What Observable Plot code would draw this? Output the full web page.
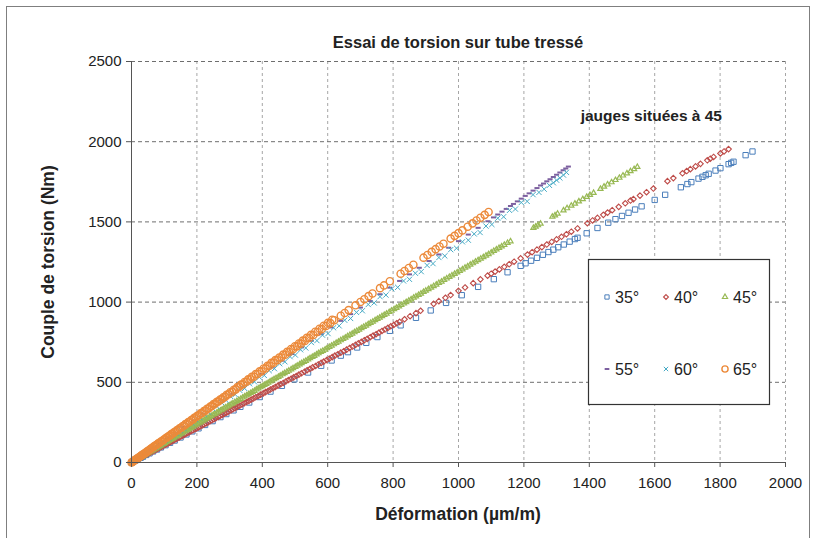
<!DOCTYPE html>
<html><head><meta charset="utf-8">
<script src="https://cdn.jsdelivr.net/npm/d3@7"></script>
<script src="https://cdn.jsdelivr.net/npm/@observablehq/plot@0.6"></script>
<style>
body{margin:0;background:#fff;}
#wrap{position:relative;width:814px;height:538px;overflow:hidden;background:#fff;}
#border{position:absolute;left:6px;top:6px;width:804px;height:600px;border:1px solid #7f7f7f;box-sizing:border-box;}
#chart{position:absolute;left:0;top:0;}
</style>
</head><body>
<div id="wrap"><div id="border"></div><div id="chart"></div></div>
<script>
const title = "Essai de torsion sur tube tressé";
const note = "jauges situées à 45";
const xLabel = "Déformation (µm/m)";
const yLabel = "Couple de torsion (Nm)";
const xTicks = [0,200,400,600,800,1000,1200,1400,1600,1800,2000];
const yTicks = [0,500,1000,1500,2000,2500];
const seriesNames = ["35°","40°","45°","55°","60°","65°"];
const seriesColors = ["#4A7EBB","#BE4B48","#98B954","#7D60A0","#46AAC5","#EC8A3A"];

const x35 = [0,5,12,20,28,35,45,55,66,78,90,104,118,132,150,168,186,205,225,248,272,290,312,333,360,392,425,460,498,540,580,612,640,662,690,718,752,790,823,870,915,962,1010,1060,1108,1150,1190,1205,1222,1240,1258,1275,1290,1305,1322,1340,1356,1364,1392,1425,1458,1480,1500,1520,1540,1560,1600,1632,1680,1700,1712,1734,1746,1756,1765,1786,1801,1826,1834,1841,1878,1899];
const y35 = [0,5,12,21,29,36,47,57,69,81,94,108,123,137,156,175,194,213,234,258,283,302,325,347,374,408,442,478,518,561,603,636,666,688,717,746,782,821,855,902,948,995,1043,1095,1143,1186,1226,1242,1258,1276,1295,1312,1327,1342,1359,1377,1393,1401,1429,1462,1495,1517,1537,1557,1577,1597,1637,1669,1716,1736,1748,1770,1781,1791,1800,1820,1835,1860,1868,1875,1916,1939];

const x40 = [0,6,12,18,24,30,37,44,51,58,66,74,82,90,99,108,117,126,136,146,156,166,177,188,199,210,222,234,246,258,271,284,297,310,324,338,352,366,380,395,410,425,440,456,472,488,504,520,537,554,571,588,605,622,640,658,676,694,712,730,748,766,784,802,820,835,852,870,884,924,940,960,976,1000,1020,1045,1067,1089,1100,1112,1125,1140,1155,1170,1190,1211,1225,1240,1255,1270,1285,1300,1315,1330,1345,1364,1394,1410,1425,1443,1456,1470,1490,1510,1526,1535,1555,1575,1596,1639,1657,1685,1698,1709,1725,1740,1761,1770,1780,1801,1812,1826,
  3,9,15,21,27,34,41,48,55,62,70,78,86,95,104,113,122,131,141,151,161,172,183,194,205,216,228,240,252,265,278,291,304,317,331,345,359,373,388,403,418,433,448,464,480,496,512,529,546,563,580,597,614,631,649,667,685,703,721,739,757,775,793,811];
const y40 = [0,6,13,19,26,32,40,47,55,62,71,79,88,96,106,116,125,135,146,156,167,178,189,201,213,225,238,250,263,276,290,304,318,332,347,362,377,392,407,423,439,455,471,488,505,522,539,556,575,593,611,629,647,666,685,704,723,743,762,781,800,820,839,858,877,893,912,931,946,989,1006,1027,1044,1070,1091,1118,1142,1165,1177,1190,1204,1220,1236,1252,1273,1296,1311,1327,1343,1359,1375,1391,1407,1423,1439,1459,1492,1509,1525,1544,1558,1573,1594,1616,1633,1642,1664,1685,1708,1754,1773,1803,1817,1829,1846,1862,1884,1894,1905,1927,1939,1954,
  3,10,16,22,29,36,44,51,59,66,75,83,92,102,111,121,131,140,151,162,172,184,196,208,219,231,244,257,270,284,297,311,325,339,354,369,384,399,415,431,447,463,479,496,514,531,548,566,584,602,621,639,657,675,694,714,733,752,771,791,810,829,849,868];

const x45 = [0,5,10,16,22,28,34,40,47,54,61,68,75,82,90,98,106,114,122,130,139,148,157,166,175,184,194,204,214,224,234,244,255,266,277,288,299,310,322,334,346,358,370,382,394,406,418,430,442,455,468,481,494,507,520,533,546,559,572,585,598,612,626,640,654,668,682,696,710,724,738,752,766,780,795,810,825,840,855,870,885,900,916,932,948,964,980,996,1012,1028,1044,1060,1076,1092,1108,1124,1140,1159,1229,1236,1243,1251,1287,1295,1303,1321,1332,1345,1356,1368,1380,1392,1402,1413,1434,1445,1456,1468,1480,1492,1503,1515,1526,1537,1547,
  3,8,13,19,25,31,37,44,51,58,65,72,79,86,94,102,110,118,126,135,144,153,162,171,180,189,199,209,219,229,239,250,261,272,283,294,305,316,328,340,352,364,376,388,400,412,424,436,449,462,475,488,501,514,527,540,553,566,579,592,605,619,633,647,661,675,689,703,717,731,745,759,773,788,803,818,833,848,863,878,893,908,924,940,956,972,988,1004,1020,1036,1052,1068,1084,1100,1116,1132,1150];
const y45 = [0,6,12,19,26,33,40,48,56,64,73,81,89,98,107,117,126,136,145,155,165,176,187,198,208,219,231,243,255,267,278,290,303,317,330,343,356,369,383,397,412,426,440,455,469,483,497,512,526,541,557,572,588,603,619,634,650,665,681,696,712,728,745,762,778,795,812,828,845,862,878,895,912,928,946,964,982,1000,1017,1035,1053,1071,1090,1109,1128,1147,1166,1185,1204,1223,1242,1261,1280,1299,1319,1338,1357,1379,1463,1471,1479,1489,1532,1541,1551,1572,1585,1601,1614,1628,1642,1656,1668,1681,1706,1720,1733,1747,1761,1775,1789,1803,1816,1829,1843,
  4,10,15,23,30,37,44,52,61,69,77,86,94,102,112,121,131,140,150,161,171,182,193,203,214,225,237,249,261,273,284,298,311,324,337,350,363,376,390,405,419,433,447,462,476,490,505,519,534,550,565,581,596,612,627,643,658,674,689,704,720,737,753,770,787,803,820,837,853,870,887,903,920,938,956,973,991,1009,1027,1045,1063,1081,1100,1119,1138,1157,1176,1195,1214,1233,1252,1271,1290,1309,1328,1347,1369];

const x55 = [0,20,40,60,85,110,135,160,190,220,250,280,310,340,370,400,430,460,490,520,550,580,610,640,670,700,730,760,790,820,850,880,910,940,970,1000,1030,1060,1090,1107,1120,1133,1146,1159,1168,1180,1192,1204,1216,1228,1240,1251,1260,1270,1280,1290,1300,1310,1320,1328,1336];
const y55 = [0,28,55,83,117,152,186,221,262,304,345,386,428,469,511,552,593,635,676,718,759,800,842,883,925,966,1007,1049,1090,1132,1173,1214,1256,1297,1339,1380,1421,1463,1504,1528,1546,1564,1581,1599,1612,1628,1645,1662,1678,1695,1711,1727,1739,1753,1766,1780,1794,1808,1822,1833,1845];

const x60 = [0,8,16,25,34,43,52,62,72,82,92,103,114,125,136,148,160,172,184,196,209,222,235,248,261,275,289,303,317,331,346,361,376,391,406,421,437,453,469,485,501,517,533,550,567,584,601,618,635,652,670,688,706,724,742,760,778,796,814,832,850,868,886,904,922,940,958,976,994,1012,1030,1048,1066,1084,1102,1120,1138,1156,1174,1192,1210,1228,1246,1262,1278,1290,1300,1310,1321,1330];
const y60 = [0,11,21,34,45,58,70,84,96,112,123,140,152,170,182,201,214,234,246,267,280,302,315,337,350,374,388,412,424,450,462,491,503,532,543,573,585,616,628,660,670,703,714,748,760,794,804,840,852,887,898,936,946,985,995,1034,1044,1083,1092,1132,1142,1180,1190,1229,1240,1278,1288,1327,1336,1376,1386,1425,1434,1474,1484,1523,1532,1572,1580,1621,1628,1670,1684,1704,1728,1744,1760,1774,1792,1809];

const x65 = [0,6,12,18,24,30,36,43,50,57,64,71,78,86,94,102,110,118,126,134,143,152,161,170,179,188,197,206,216,226,236,246,256,266,276,286,297,308,319,330,341,352,363,374,386,398,410,422,434,446,458,470,482,494,506,518,530,543,556,569,582,595,608,620,640,652,664,685,700,712,725,737,760,772,790,823,835,848,862,893,905,918,930,942,954,976,988,1000,1012,1028,1043,1055,1067,1080,1092,
  3,9,15,21,27,33,40,47,54,61,68,75,82,90,98,106,114,122,130,138,147,156,165,174,183,192,201,211,221,231,241,251,261,271,281,291,302,313,324,335,346,357,368,380,392,404,416,428,440,452,464,476,488,500,512,524,536,549,562,575,588,601,614];
const y65 = [0,9,17,26,34,43,51,61,72,82,92,102,112,123,134,146,157,169,180,192,204,217,230,243,256,269,282,295,309,323,337,352,366,380,395,409,425,440,456,472,488,503,519,535,552,569,586,603,621,638,655,672,689,706,724,741,758,776,795,814,832,851,869,887,915,932,950,980,1001,1018,1037,1054,1087,1104,1130,1177,1194,1213,1233,1277,1294,1313,1330,1347,1364,1396,1413,1430,1447,1470,1491,1509,1526,1544,1562,
  4,13,22,30,39,48,58,68,78,88,99,109,119,131,142,154,165,177,189,200,213,226,239,252,265,278,291,306,320,335,349,364,378,393,407,422,438,454,470,486,502,518,534,551,568,586,603,621,638,655,673,690,708,725,742,760,777,796,815,834,853,871,890];

const dashSymbol = {draw(ctx, size){ const w = Math.sqrt(size) * 0.55; ctx.moveTo(-w, 0); ctx.lineTo(w, 0); }};
const seriesX = [x35,x40,x45,x55,x60,x65];
const seriesY = [y35,y40,y45,y55,y60,y65];
const symbols = ["square","diamond2","triangle",dashSymbol,"times","circle"];
const radii = [3,2.5,1.9,2.6,2.5,3.6];
const widths = [1,1.1,1.2,2,1,1.4];
const legendRadii = [2.4,2.2,1.9,2.4,2.1,3.1];

const rows = (xs, ys) => xs.map((x, i) => ({x, y: ys[i]}));

const dotMarks = seriesX.map((xs, k) => Plot.dot(rows(xs, seriesY[k]), {
  x: "x", y: "y", symbol: symbols[k], r: radii[k],
  stroke: seriesColors[k], fill: "none", strokeWidth: widths[k]
}));

const plot = Plot.plot({
  width: 814, height: 538,
  marginLeft: 131, marginRight: 29, marginTop: 61, marginBottom: 76,
  x: {domain: [0, 2000]},
  y: {domain: [0, 2500]},
  style: {fontFamily: "'Liberation Sans', Arial, sans-serif", fontSize: "15px", color: "#222", background: "transparent", overflow: "visible"},
  marks: [
    Plot.ruleX(xTicks.slice(1), {stroke: "#a6a6a6", strokeDasharray: "3,3", strokeWidth: 1}),
    Plot.ruleY(yTicks.slice(1), {stroke: "#6e6e6e", strokeDasharray: "4,3", strokeWidth: 1}),
    ...dotMarks,
    Plot.ruleX([0], {stroke: "#555"}),
    Plot.ruleY([0], {stroke: "#555"}),
    Plot.axisX({ticks: xTicks, tickSize: 5, tickPadding: 10, tickFormat: d => String(d), label: null, stroke: "#555"}),
    Plot.axisY({ticks: yTicks, tickSize: 5, tickPadding: 5, tickFormat: d => String(d), label: null, stroke: "#555"})
  ]
});
document.getElementById("chart").appendChild(plot);

const svg = d3.select(plot);
const font = "'Liberation Sans', Arial, sans-serif";
svg.append("text").attr("x", 458).attr("y", 48).attr("text-anchor", "middle")
  .attr("font-family", font).attr("font-weight", "bold").attr("font-size", 16.5).attr("fill", "#222").text(title);
svg.append("text").attr("x", 722).attr("y", 121).attr("text-anchor", "end")
  .attr("font-family", font).attr("font-weight", "bold").attr("font-size", 15.5).attr("fill", "#222").text(note);
svg.append("text").attr("x", 458).attr("y", 520).attr("text-anchor", "middle")
  .attr("font-family", font).attr("font-weight", "bold").attr("font-size", 17.5).attr("fill", "#222").text(xLabel);
svg.append("text").attr("transform", "translate(54,262) rotate(-90)").attr("text-anchor", "middle")
  .attr("font-family", font).attr("font-weight", "bold").attr("font-size", 17.5).attr("fill", "#222").text(yLabel);

// legend
const lg = svg.append("g");
lg.append("rect").attr("x", 588.5).attr("y", 259.5).attr("width", 181).attr("height", 145)
  .attr("fill", "#fff").attr("stroke", "#333").attr("stroke-width", 1.2);
const colX = [607, 666, 725];
const rowY = [297, 369];
const d3Types = [d3.symbolSquare, d3.symbolDiamond2, d3.symbolTriangle, dashSymbol, d3.symbolTimes, d3.symbolCircle];
seriesNames.forEach((name, k) => {
  const cx = colX[k % 3], cy = rowY[Math.floor(k / 3)];
  const r = legendRadii[k];
  lg.append("path").attr("transform", `translate(${cx},${cy})`)
    .attr("d", d3.symbol().type(d3Types[k]).size(r * r * Math.PI)())
    .attr("fill", "none").attr("stroke", seriesColors[k]).attr("stroke-width", widths[k]);
  lg.append("text").attr("x", cx + 8).attr("y", cy + 6).attr("text-anchor", "start").attr("font-family", font)
    .attr("font-size", 16).attr("fill", "#222").text(name);
});
</script>
</body></html>
